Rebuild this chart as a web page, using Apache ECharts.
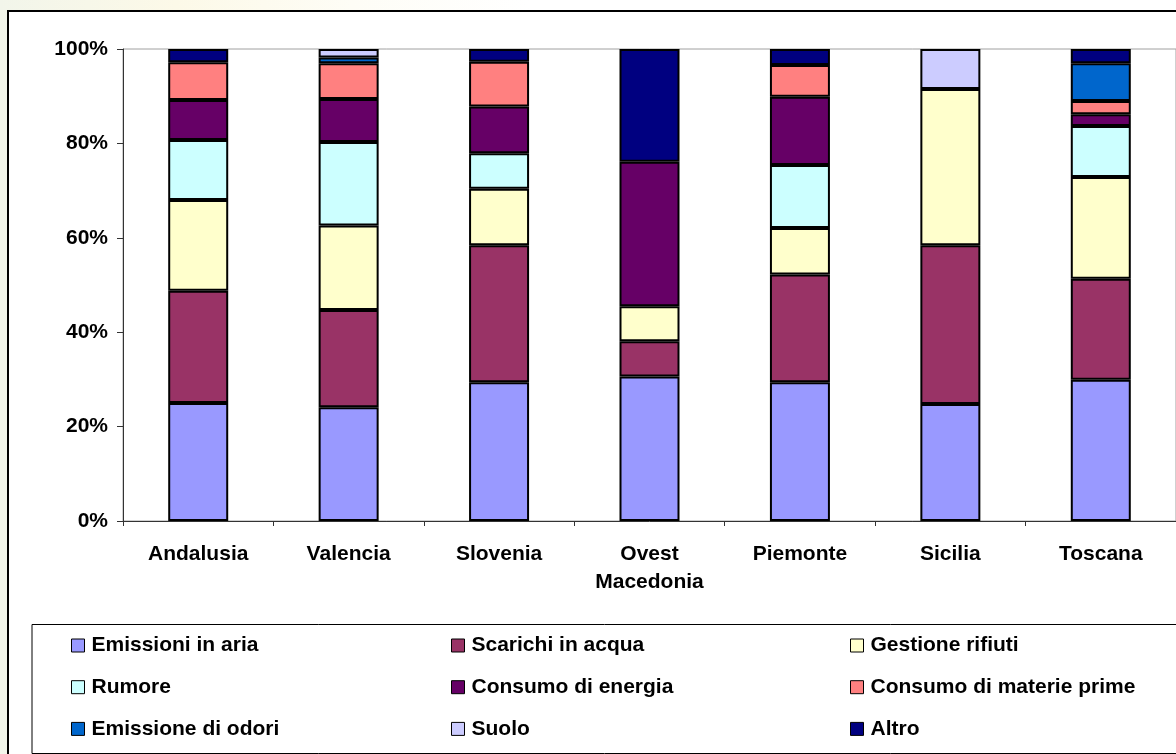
<!DOCTYPE html>
<html>

<head>
    <meta charset="UTF-8">
    <script src="https://cdn.jsdelivr.net/npm/echarts@6/dist/echarts.min.js"></script>
    <style>
    html, body {
        margin: 0;
        padding: 0;
        background: #fff;
    }
    #chart {
        width: 1176px;
        height: 754px;
    }
    </style>
</head>

<body>
    <div id="chart"></div>
    <script>
    // regioni
    var categories = ['Andalusia', 'Valencia', 'Slovenia', 'Ovest\nMacedonia', 'Piemonte', 'Sicilia', 'Toscana'];
    var yTicks = [0, 20, 40, 60, 80, 100];

    // quote percentuali per voce (dal basso verso l'alto)
    var emissioniAria   = [25.0, 24.1, 29.4, 30.6, 29.4, 24.8, 29.9];
    var scarichiAcqua   = [23.8, 20.6, 29.0,  7.5, 22.8, 33.6, 21.4];
    var gestioneRifiuti = [19.2, 17.9, 12.0,  7.4,  9.9, 33.1, 21.6];
    var rumore          = [12.7, 17.7,  7.5,  0,   13.3,  0,   10.8];
    var consumoEnergia  = [ 8.5,  9.1,  9.9, 30.6, 14.5,  0,    2.5];
    var consumoMaterie  = [ 8.0,  7.6,  9.5,  0,    6.7,  0,    2.8];
    var emissioneOdori  = [ 0,    1.2,  0,    0,    0,    0,    8.0];
    var suolo           = [ 0,    1.8,  0,    0,    0,    8.5,  0];
    var altro           = [ 2.8,  0,    2.7, 23.9,  3.4,  0,    3.0];

    var seriesNames = ['Emissioni in aria', 'Scarichi in acqua', 'Gestione rifiuti', 'Rumore',
        'Consumo di energia', 'Consumo di materie prime', 'Emissione di odori', 'Suolo', 'Altro'];
    var seriesData = [emissioniAria, scarichiAcqua, gestioneRifiuti, rumore,
        consumoEnergia, consumoMaterie, emissioneOdori, suolo, altro];
    var colors = ['#9999FF', '#993366', '#FFFFCC', '#CCFFFF', '#660066', '#FF8080', '#0066CC', '#CCCCFF', '#000080'];

    var FONT = "'Liberation Sans', Arial, sans-serif";

    var series = seriesNames.map(function(name, i) {
        return {
            name: name,
            type: 'bar',
            stack: 'tot',
            barWidth: 60,
            itemStyle: {
                color: colors[i],
                borderColor: '#000',
                borderWidth: 2
            },
            // 0 -> nessun segmento
            data: seriesData[i].map(function(v) { return v === 0 ? '-' : v; })
        };
    });

    function legendCol(left, names) {
        return {
            left: left,
            top: 635,
            orient: 'vertical',
            padding: 0,
            itemGap: 20.7,
            itemWidth: 13,
            itemHeight: 13,
            icon: 'rect',
            selectedMode: false,
            itemStyle: { borderColor: '#000', borderWidth: 1 },
            textStyle: {
                fontFamily: FONT,
                fontWeight: 'bold',
                fontSize: 21,
                color: '#000',
                padding: [0, 0, 0, 2]
            },
            data: names
        };
    }

    var option = {
        animation: false,
        backgroundColor: '#fff',
        color: colors,
        grid: {
            show: true,
            left: 123,
            top: 49,
            width: 1055,
            height: 472,
            borderColor: '#a0a0a0',
            borderWidth: 1,
            backgroundColor: 'transparent'
        },
        legend: [
            legendCol(71, [seriesNames[0], seriesNames[3], seriesNames[6]]),
            legendCol(451, [seriesNames[1], seriesNames[4], seriesNames[7]]),
            legendCol(850, [seriesNames[2], seriesNames[5], seriesNames[8]])
        ],
        graphic: [{
            // sfondo esterno
            type: 'rect',
            z: -10,
            shape: { x: 0, y: 0, width: 1176, height: 754 },
            style: {
                fill: {
                    type: 'linear', x: 0, y: 0, x2: 1, y2: 0,
                    colorStops: [
                        { offset: 0, color: '#f2f5ea' },
                        { offset: 0.15, color: '#fcf9e8' },
                        { offset: 0.3, color: '#fefdf6' },
                        { offset: 0.45, color: '#ffffff' }
                    ]
                }
            }
        }, {
            // cornice del grafico
            type: 'rect',
            z: -5,
            shape: { x: 8, y: 11, width: 1200, height: 800 },
            style: { fill: '#fff', stroke: '#000', lineWidth: 2 }
        }, {
            // riquadro legenda
            type: 'rect',
            z: -1,
            shape: { x: 32, y: 624.5, width: 1200, height: 129 },
            style: { fill: 'none', stroke: '#000', lineWidth: 1 }
        }],
        xAxis: {
            type: 'category',
            data: categories,
            axisLine: { lineStyle: { color: '#333', width: 1 } },
            axisTick: { show: true, length: 5, lineStyle: { color: '#333' } },
            axisLabel: {
                margin: 19,
                interval: 0,
                fontFamily: FONT,
                fontWeight: 'bold',
                fontSize: 21,
                lineHeight: 28,
                color: '#000'
            },
            splitLine: { show: false }
        },
        yAxis: {
            type: 'value',
            min: 0,
            max: 100,
            interval: 20,
            axisLine: { show: true, lineStyle: { color: '#333', width: 1 } },
            axisTick: { show: true, length: 6, lineStyle: { color: '#333' } },
            axisLabel: {
                margin: 15,
                fontFamily: FONT,
                fontWeight: 'bold',
                fontSize: 21,
                color: '#000',
                formatter: function(v) { return yTicks.indexOf(v) >= 0 ? v + '%' : ''; }
            },
            splitLine: { show: false }
        },
        series: series
    };

    var myChart = echarts.init(document.getElementById('chart'), null, { renderer: 'canvas' });
    myChart.setOption(option);
    </script>
</body>

</html>
